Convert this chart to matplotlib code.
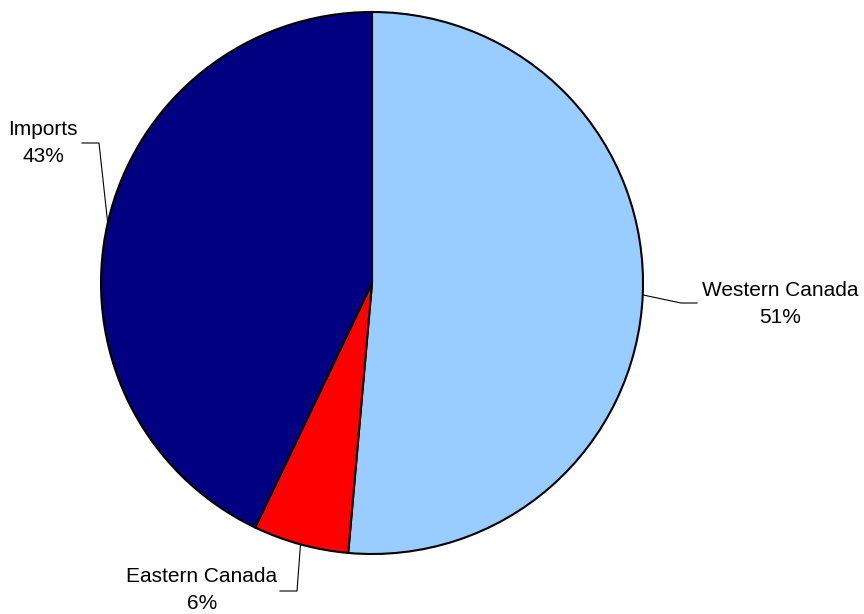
import numpy as np
import matplotlib.pyplot as plt

plt.rcParams['font.family'] = ['Liberation Sans', 'DejaVu Sans']

# Datos
labels = ["Western Canada", "Eastern Canada", "Imports"]
shares = [51.4, 5.7, 42.9]
colors = ["#99CCFF", "#FF0000", "#000080"]

W, H = 864, 614
fig = plt.figure(figsize=(W / 100, H / 100), dpi=100)
ax = fig.add_axes([0, 0, 1, 1])

cx, cy, r = 372, H - 283, 271
wedges, _ = ax.pie(shares, colors=colors, startangle=90, counterclock=False,
                   center=(cx, cy), radius=r, frame=True,
                   wedgeprops=dict(edgecolor='black', linewidth=1.5))
ax.set_xlim(0, W)
ax.set_ylim(0, H)
ax.set_aspect('equal')
ax.axis('off')

# Etiquetas con líneas guía (codo + texto)
elbows = [(681, H - 303, 697), (297, H - 591, 280), (99, H - 143, 82)]
text_pos = [(780, H - 304), (202, H - 590), (43, H - 143)]

for w, lab, val, (ex, ey, hx), (tx, ty) in zip(wedges, labels, shares, elbows, text_pos):
    mid = np.deg2rad((w.theta1 + w.theta2) / 2)
    px, py = cx + r * np.cos(mid), cy + r * np.sin(mid)
    ax.plot([px, ex, hx], [py, ey, ey], color='black', linewidth=0.8)
    ax.text(tx, ty, f"{lab}\n{val:.0f}%", ha='center', va='center', fontsize=15,
            linespacing=1.5)

fig.savefig("out.png", dpi=100)
